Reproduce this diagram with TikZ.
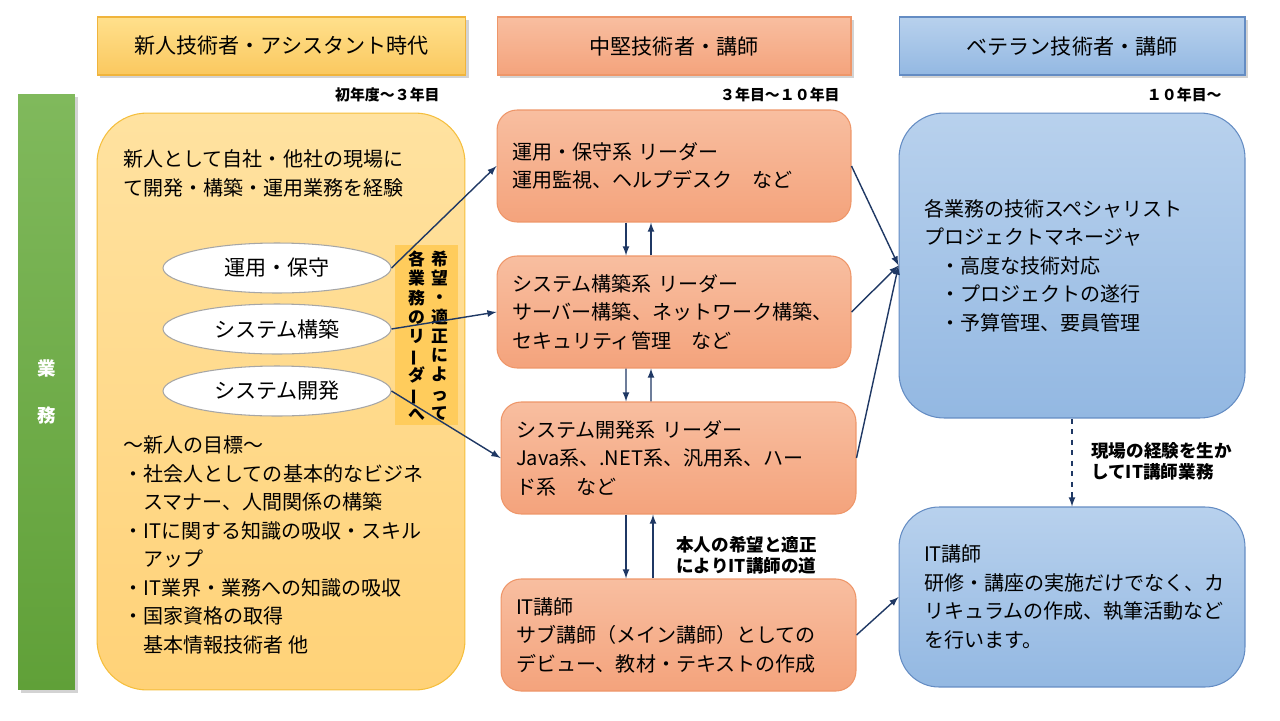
\documentclass[tikz,border=0pt]{standalone}
\usepackage{fontspec}
\setmainfont{Noto Sans CJK JP}
\usepackage{tikz}
\usetikzlibrary{arrows,shapes.geometric,shadows}
\tikzset{>=latex}
\definecolor{navy}{RGB}{31,56,100}
\definecolor{hAtop}{RGB}{255,224,140}
\definecolor{hAbot}{RGB}{250,200,95}
\definecolor{hAedge}{RGB}{240,180,60}
\definecolor{midtop}{RGB}{248,190,160}
\definecolor{midbot}{RGB}{244,163,124}
\definecolor{midedge}{RGB}{238,150,105}
\definecolor{bluetop}{RGB}{184,209,237}
\definecolor{bluebot}{RGB}{147,184,226}
\definecolor{blueedge}{RGB}{100,140,195}
\definecolor{lefttop}{RGB}{255,226,160}
\definecolor{leftbot}{RGB}{255,210,120}
\definecolor{leftedge}{RGB}{245,190,60}
\definecolor{wishfill}{RGB}{255,204,92}
\definecolor{greentop}{RGB}{128,185,92}
\definecolor{greenbot}{RGB}{96,160,56}
\newcommand{\txtbody}{\fontsize{11.4}{16.2}\selectfont}
\newcommand{\txthead}{\fontsize{12}{14}\selectfont}
\tikzset{
  shade/.style={drop shadow={opacity=0.35,shadow xshift=1.5pt,shadow yshift=-1.5pt}},
  headbox/.style={draw,line width=0.6pt,minimum height=1.16cm,font=\txthead,shade},
  yearlabel/.style={anchor=east,inner sep=0pt,font=\fontsize{8.5}{10}\selectfont\bfseries},
  notelabel/.style={anchor=west,inner sep=0pt,align=left,font=\fontsize{10}{12}\selectfont\bfseries},
  plain/.style={anchor=west,inner sep=0pt,align=left,font=\txtbody},
  midbox/.style={draw=midedge,line width=0.6pt,top color=midtop,bottom color=midbot,rounded corners=0.4cm,
    minimum height=2.24cm,text width=6.48cm,inner xsep=0.3cm,align=left,font=\txtbody},
  bluebox/.style={draw=blueedge,line width=0.6pt,top color=bluetop,bottom color=bluebot,
    text width=5.92cm,inner xsep=0.5cm,align=left,font=\txtbody},
  jobellipse/.style={ellipse,draw=gray!70,line width=0.6pt,fill=white,minimum width=4.56cm,minimum height=1cm,font=\txthead},
  vcol/.style={inner sep=0pt,align=center,font=\fontsize{9.6}{11}\selectfont\bfseries},
  flow/.style={->,navy,line width=0.8pt}
}
\newcommand{\vbar}{\rotatebox[origin=c]{90}{ー}}
\begin{document}
\begin{tikzpicture}[x=0.02cm,y=-0.02cm]
\useasboundingbox (0,0) rectangle (1280,720);
% headers
\node[headbox,draw=hAedge,top color=hAtop,bottom color=hAbot,minimum width=7.38cm] (head1) at (281.5,46) {新人技術者・アシスタント時代};
\node[headbox,draw=midedge,top color=midtop,bottom color=midbot,minimum width=7.08cm] (head2) at (674,46) {中堅技術者・講師};
\node[headbox,draw=blueedge,top color=bluetop,bottom color=bluebot,minimum width=6.92cm] (head3) at (1072,46) {ベテラン技術者・講師};
\node[yearlabel] (year1) at (440,95) {初年度～３年目};
\node[yearlabel] (year2) at (840,95) {３年目～１０年目};
\node[yearlabel] (year3) at (1222,95) {１０年目～};
\node[top color=greentop,bottom color=greenbot,minimum width=1.14cm,minimum height=11.92cm,shade,
  text=white,align=center,font=\fontsize{10.5}{26.6}\selectfont\bfseries] (biz) at (46.5,392) {業\\務};
% newcomer column
\node[draw=leftedge,line width=0.6pt,top color=lefttop,bottom color=leftbot,rounded corners=1cm,
  minimum width=7.36cm,minimum height=11.54cm] (newbie) at (281,401.5) {};
\node[plain] (intro) at (123,173.5) {新人として自社・他社の現場に\\て開発・構築・運用業務を経験};
\node[jobellipse] (ops) at (277,268) {運用・保守};
\node[jobellipse] (build) at (277,329) {システム構築};
\node[jobellipse] (dev) at (277,391) {システム開発};
\node[fill=wishfill,minimum width=1.26cm,minimum height=3.6cm] (wish) at (426.5,335) {};
\node[vcol] (wishR) at (439.5,335.5) {希\\望\\・\\適\\正\\に\\よ\\っ\\て};
\node[vcol] (wishL) at (416.5,335.5) {各\\業\\務\\の\\リ\\\vbar\\ダ\\\vbar\\へ};
\node[plain] (goals) at (123,545) {～新人の目標～\\・社会人としての基本的なビジネ\\\hspace*{1em}スマナー、人間関係の構築\\
  ・ITに関する知識の吸収・スキル\\\hspace*{1em}アップ\\・IT業界・業務への知識の吸収\\・国家資格の取得\\\hspace*{1em}基本情報技術者 他};
% middle column
\node[midbox] (opslead) at (674,166) {運用・保守系 リーダー\\運用監視、ヘルプデスク　など};
\node[midbox] (buildlead) at (674,312) {システム構築系 リーダー\\サーバー構築、ネットワーク構築、\\セキュリティ管理　など};
\node[midbox,text width=6.5cm] (devlead) at (678.5,458) {システム開発系 リーダー\\Java系、.NET系、汎用系、ハー\\ド系　など};
\node[midbox,text width=6.5cm] (trainer) at (678.5,635) {IT講師\\サブ講師（メイン講師）としての\\デビュー、教材・テキストの作成};
% veteran column
\node[bluebox,rounded corners=0.9cm,minimum height=6.1cm] (expert) at (1072,265.5) {各業務の技術スペシャリスト\\プロジェクトマネージャ\\
  \hspace*{0.8em}・高度な技術対応\\\hspace*{0.8em}・プロジェクトの遂行\\\hspace*{0.8em}・予算管理、要員管理};
\node[bluebox,rounded corners=0.8cm,minimum height=3.6cm] (lecturer) at (1072,597) {IT講師\\研修・講座の実施だけでなく、カ\\リキュラムの作成、執筆活動など\\を行います。};
% connectors
\draw[flow] (ops.east) -- (opslead.west);
\draw[flow] (build.east) -- (buildlead.west);
\draw[flow] (dev.east) -- (devlead.west);
\draw[flow] ([xshift=-0.96cm]opslead.south) -- ([xshift=-0.96cm]buildlead.north);
\draw[flow] ([xshift=-0.46cm]buildlead.north) -- ([xshift=-0.46cm]opslead.south);
\draw[flow] ([xshift=-0.96cm]buildlead.south) -- ([xshift=-1.05cm]devlead.north);
\draw[flow] ([xshift=-0.55cm]devlead.north) -- ([xshift=-0.46cm]buildlead.south);
\draw[flow] ([xshift=-1.05cm]devlead.south) -- ([xshift=-1.05cm]trainer.north);
\draw[flow] ([xshift=-0.51cm]trainer.north) -- ([xshift=-0.51cm]devlead.south);
\draw[flow] (opslead.east) -- (expert.west);
\draw[flow] (buildlead.east) -- (expert.west);
\draw[flow] (devlead.east) -- (expert.west);
\draw[flow] (trainer.east) -- (lecturer.west);
\draw[flow,dashed] (expert.south) -- (lecturer.north);
\node[notelabel] (waynote) at (676,555.5) {本人の希望と適正\\によりIT講師の道};
\node[notelabel] (fieldnote) at (1091,461.5) {現場の経験を生か\\してIT講師業務};
\end{tikzpicture}
\end{document}
